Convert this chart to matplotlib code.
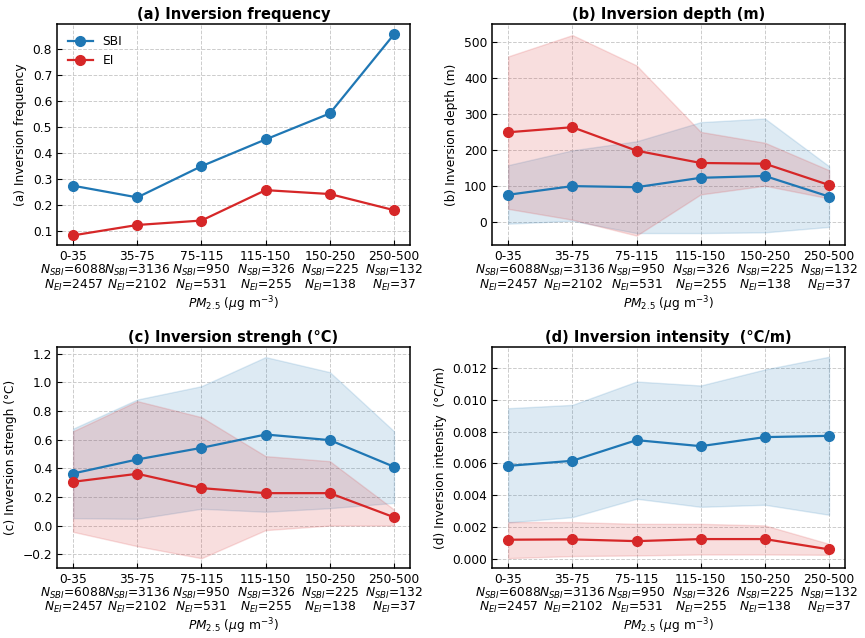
import matplotlib
matplotlib.use("Agg")
import matplotlib.pyplot as plt
import numpy as np

categories = ["0-35", "35-75", "75-115", "115-150", "150-250", "250-500"]
n_sbi = [6088, 3136, 950, 326, 225, 132]
n_ei = [2457, 2102, 531, 255, 138, 37]

# (a) frequency
freq_sbi = [0.276, 0.231, 0.351, 0.454, 0.554, 0.858]
freq_ei = [0.085, 0.125, 0.142, 0.259, 0.244, 0.182]

# (b) depth (m)
depth_sbi = [76, 100, 97, 123, 128, 71]
depth_sbi_lo = [-4, 4, -30, -30, -28, -13]
depth_sbi_hi = [158, 199, 224, 277, 287, 155]
depth_ei = [249, 263, 198, 164, 162, 103]
depth_ei_lo = [37, 7, -37, 77, 101, 66]
depth_ei_hi = [459, 518, 434, 250, 220, 144]

# (c) strength (°C)
str_sbi = [0.365, 0.463, 0.544, 0.637, 0.598, 0.412]
str_sbi_lo = [0.053, 0.049, 0.119, 0.098, 0.123, 0.160]
str_sbi_hi = [0.678, 0.881, 0.974, 1.177, 1.072, 0.660]
str_ei = [0.307, 0.363, 0.263, 0.228, 0.228, 0.060]
str_ei_lo = [-0.042, -0.142, -0.226, -0.030, 0.002, 0.002]
str_ei_hi = [0.660, 0.870, 0.758, 0.486, 0.451, 0.114]

# (d) intensity (°C/m)
int_sbi = [0.00585, 0.00617, 0.00747, 0.00709, 0.00766, 0.00774]
int_sbi_lo = [0.00229, 0.00262, 0.00378, 0.00327, 0.00340, 0.00277]
int_sbi_hi = [0.00948, 0.00969, 0.01116, 0.01091, 0.01192, 0.01272]
int_ei = [0.00120, 0.00122, 0.00111, 0.00124, 0.00124, 0.00059]
int_ei_lo = [0.00004, 0.00017, 0.00021, 0.00027, 0.00027, 0.00025]
int_ei_hi = [0.00231, 0.00231, 0.00220, 0.00220, 0.00210, 0.00094]

BLUE = "#1f77b4"
RED = "#d62728"
FS = 8.8

plt.rcParams['font.family'] = ['DejaVu Sans']
fig = plt.figure(figsize=(8.65, 6.38), dpi=100)

rects = [
    [0.066, 0.616, 0.408, 0.346],
    [0.569, 0.616, 0.408, 0.346],
    [0.066, 0.110, 0.408, 0.346],
    [0.569, 0.110, 0.408, 0.346],
]
axes = [fig.add_axes(r) for r in rects]

x = np.arange(len(categories))
ticklabels = [f"{c}\n$N_{{SBI}}$={a}\n$N_{{EI}}$={b}" for c, a, b in zip(categories, n_sbi, n_ei)]


def style(ax, title, ylabel):
    ax.set_title(title, fontsize=10.5, fontweight="bold", pad=4)
    ax.set_ylabel(ylabel, fontsize=FS)
    ax.set_xlabel(r"$PM_{2.5}$ ($\mu$g m$^{-3}$)", fontsize=FS, labelpad=1)
    ax.set_xticks(x)
    ax.set_xticklabels(ticklabels, fontsize=FS, linespacing=0.98)
    ax.tick_params(axis="both", direction="in", labelsize=FS)
    ax.grid(True, linestyle="--", color="#cccccc", linewidth=0.7)
    ax.set_axisbelow(True)
    for s in ax.spines.values():
        s.set_linewidth(1.1)


def plot_pair(ax, m1, m2, lo1=None, hi1=None, lo2=None, hi2=None):
    if lo1 is not None:
        ax.fill_between(x, lo1, hi1, color=BLUE, alpha=0.15)
        ax.fill_between(x, lo2, hi2, color=RED, alpha=0.15)
    ax.plot(x, m1, "-o", color=BLUE, lw=1.6, ms=7, label="SBI")
    ax.plot(x, m2, "-o", color=RED, lw=1.6, ms=7, label="EI")


ax = axes[0]
plot_pair(ax, freq_sbi, freq_ei)
style(ax, "(a) Inversion frequency", "(a) Inversion frequency")
ax.set_ylim(0.048, 0.897)
ax.legend(loc="upper left", frameon=False, fontsize=FS)

ax = axes[1]
plot_pair(ax, depth_sbi, depth_ei, depth_sbi_lo, depth_sbi_hi, depth_ei_lo, depth_ei_hi)
style(ax, "(b) Inversion depth (m)", "(b) Inversion depth (m)")
ax.set_ylim(-63, 548)

ax = axes[2]
plot_pair(ax, str_sbi, str_ei, str_sbi_lo, str_sbi_hi, str_ei_lo, str_ei_hi)
style(ax, "(c) Inversion strengh (°C)", "(c) Inversion strengh (°C)")
ax.set_ylim(-0.293, 1.247)

ax = axes[3]
plot_pair(ax, int_sbi, int_ei, int_sbi_lo, int_sbi_hi, int_ei_lo, int_ei_hi)
style(ax, "(d) Inversion intensity  (°C/m)", "(d) Inversion intensity  (°C/m)")
ax.set_ylim(-0.00057, 0.01333)
ax.set_yticks([0.0, 0.002, 0.004, 0.006, 0.008, 0.010, 0.012])
ax.set_yticklabels(["0.000", "0.002", "0.004", "0.006", "0.008", "0.010", "0.012"])

fig.savefig("out.png", dpi=100)
